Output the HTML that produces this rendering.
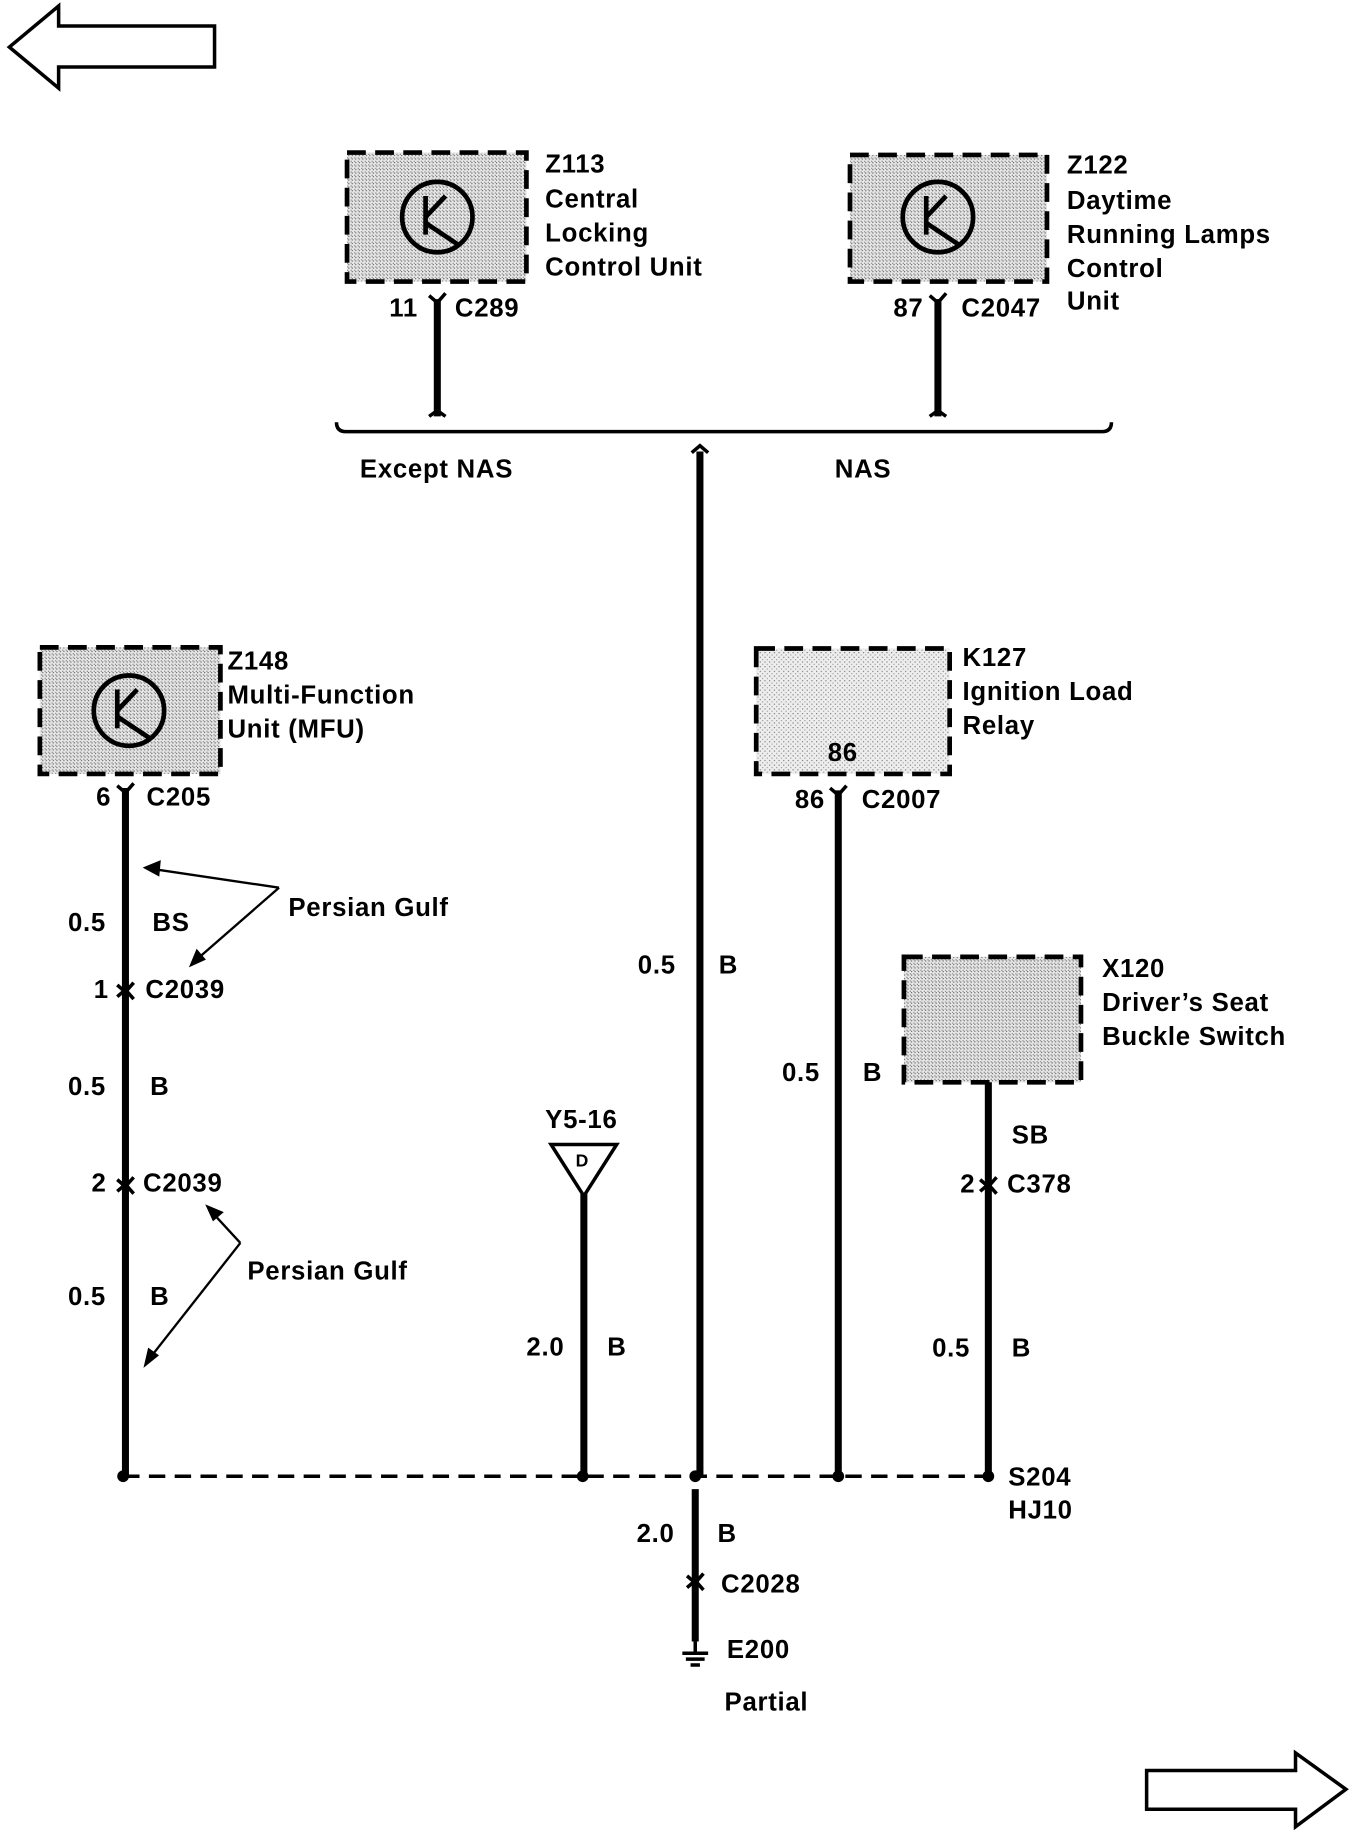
<!DOCTYPE html>
<html><head><meta charset="utf-8"><style>
html,body{margin:0;padding:0;background:#fff;}
svg{display:block;}
text{font-family:"Liberation Sans",Arial,sans-serif;font-weight:bold;font-size:22px;letter-spacing:0.6px;fill:#000;}
</style></head><body>
<svg width="1360" height="1834" viewBox="0 0 1160 1564" xmlns="http://www.w3.org/2000/svg">
<defs>
<pattern id="st" width="3" height="3" patternUnits="userSpaceOnUse"><rect width="3" height="3" fill="#e6e6e6"/><rect width="1" height="1" fill="#666"/><rect x="2" y="2" width="1" height="1" fill="#888"/></pattern>
<pattern id="st2" width="4" height="4" patternUnits="userSpaceOnUse"><rect width="4" height="4" fill="#eee"/><rect width="1" height="1" fill="#777"/><rect x="2" y="2" width="1" height="1" fill="#999"/></pattern>
</defs>
<g fill="none" stroke="#000" stroke-width="3">
<polygon points="8,40 50,5 50,22 183,22 183,57 50,57 50,75"/>
<polygon points="978,1510 1105,1510 1105,1495 1148,1526 1105,1558 1105,1543 978,1543"/>
</g>
<g stroke="#000" stroke-width="4" stroke-dasharray="16,8">
<rect x="296" y="130" width="153" height="110" fill="url(#st)"/>
<rect x="725" y="132" width="168" height="108" fill="url(#st)"/>
<rect x="34" y="552" width="154" height="108" fill="url(#st)"/>
<rect x="645" y="553" width="165" height="107" fill="url(#st2)"/>
<rect x="771" y="816" width="151" height="107" fill="url(#st)"/>
</g>
<g fill="none" stroke="#000" stroke-width="4">
<circle cx="373" cy="185" r="30"/><circle cx="800" cy="185" r="30"/><circle cx="110" cy="606" r="30"/>
<path d="M363,167 V200 M363,185 L380,167 M363,190 L390,208"/>
<path d="M790,167 V200 M790,185 L807,167 M790,190 L817,208"/>
<path d="M100,588 V621 M100,606 L117,588 M100,611 L127,629"/>
</g>
<g stroke="#000" stroke-width="6" fill="none">
<line x1="373" y1="255" x2="373" y2="355"/>
<line x1="800" y1="255" x2="800" y2="355"/>
<line x1="597" y1="385" x2="597" y2="1258"/>
<line x1="593" y1="1270" x2="593" y2="1400"/>
<line x1="107" y1="672" x2="107" y2="1258"/>
<line x1="498" y1="1018" x2="498" y2="1258"/>
<line x1="715" y1="674" x2="715" y2="1258"/>
<line x1="843" y1="923" x2="843" y2="1258"/>
</g>
<g stroke="#000" stroke-width="3" fill="none">
<path d="M366,252 L373,258 L380,250 M366,355 L373,350 L380,355"/>
<path d="M793,252 L800,258 L807,250 M793,355 L800,350 L807,355"/>
<path d="M590,386 L597,380 L604,386"/>
<path d="M287,360 Q287,368 295,368 H940 Q948,368 948,360"/>
<path d="M100,670 L107,676 L114,668"/>
<path d="M708,672 L715,678 L722,670"/>
<path d="M100,840 L107,846 L114,838 M100,850 L107,844 L114,852"/>
<path d="M100,1006 L107,1012 L114,1004 M100,1016 L107,1010 L114,1018"/>
<path d="M836,1006 L843,1012 L850,1004 M836,1016 L843,1010 L850,1018"/>
<path d="M586,1344 L593,1350 L600,1342 M586,1354 L593,1348 L600,1356"/>
<line x1="593" y1="1400" x2="593" y2="1410"/>
<line x1="582" y1="1410" x2="604" y2="1410"/><line x1="585" y1="1415" x2="601" y2="1415"/><line x1="589" y1="1420" x2="597" y2="1420"/>
<polygon points="470,976 526,976 498,1020"/>
<line x1="105" y1="1259" x2="843" y2="1259" stroke-dasharray="14,8"/>
</g>
<g stroke="#000" stroke-width="2" fill="#000">
<line x1="238" y1="757" x2="130" y2="741"/><polygon points="124,740 136,735 135,746"/>
<line x1="238" y1="757" x2="168" y2="818"/><polygon points="163,823 168,811 174,818"/>
<line x1="205" y1="1060" x2="181" y2="1034"/><polygon points="177,1029 189,1034 182,1040"/>
<line x1="205" y1="1060" x2="128" y2="1158"/><polygon points="124,1164 127,1151 134,1156"/>
</g>
<g fill="#000"><circle cx="105" cy="1259" r="5"/><circle cx="497" cy="1259" r="5"/><circle cx="593" cy="1259" r="5"/><circle cx="715" cy="1259" r="5"/><circle cx="843" cy="1259" r="5"/></g>
<text x="465" y="147">Z113</text><text x="465" y="177">Central</text><text x="465" y="206">Locking</text><text x="465" y="235">Control Unit</text>
<text x="332" y="270">11</text><text x="388" y="270">C289</text>
<text x="910" y="148">Z122</text><text x="910" y="178">Daytime</text><text x="910" y="207">Running Lamps</text><text x="910" y="236">Control</text><text x="910" y="264">Unit</text>
<text x="762" y="270">87</text><text x="820" y="270">C2047</text>
<text x="307" y="407">Except NAS</text><text x="712" y="407">NAS</text>
<text x="194" y="571">Z148</text><text x="194" y="600">Multi-Function</text><text x="194" y="629">Unit (MFU)</text>
<text x="82" y="687">6</text><text x="125" y="687">C205</text>
<text x="246" y="781">Persian Gulf</text>
<text x="58" y="794">0.5</text><text x="130" y="794">BS</text>
<text x="80" y="851">1</text><text x="124" y="851">C2039</text>
<text x="58" y="934">0.5</text><text x="128" y="934">B</text>
<text x="78" y="1016">2</text><text x="122" y="1016">C2039</text>
<text x="211" y="1091">Persian Gulf</text>
<text x="58" y="1113">0.5</text><text x="128" y="1113">B</text>
<text x="465" y="962">Y5-16</text><text x="491" y="995" style="font-size:15px">D</text>
<text x="449" y="1156">2.0</text><text x="518" y="1156">B</text>
<text x="544" y="830">0.5</text><text x="613" y="830">B</text>
<text x="821" y="568">K127</text><text x="821" y="597">Ignition Load</text><text x="821" y="626">Relay</text>
<text x="706" y="649">86</text>
<text x="678" y="689">86</text><text x="735" y="689">C2007</text>
<text x="667" y="922">0.5</text><text x="736" y="922">B</text>
<text x="940" y="833">X120</text><text x="940" y="862">Driver’s Seat</text><text x="940" y="891">Buckle Switch</text>
<text x="863" y="975">SB</text><text x="819" y="1017">2</text><text x="859" y="1017">C378</text>
<text x="795" y="1157">0.5</text><text x="863" y="1157">B</text>
<text x="860" y="1267">S204</text><text x="860" y="1295">HJ10</text>
<text x="543" y="1315">2.0</text><text x="612" y="1315">B</text>
<text x="615" y="1358">C2028</text>
<text x="620" y="1414">E200</text>
<text x="618" y="1459">Partial</text>
</svg>
</body></html>
